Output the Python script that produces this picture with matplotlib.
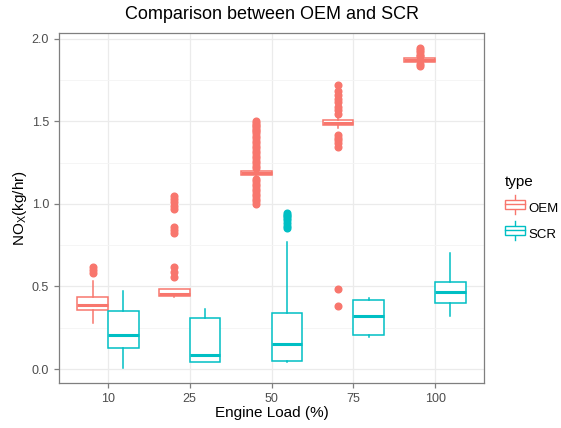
import numpy as np
import matplotlib
matplotlib.use("Agg")
import matplotlib.pyplot as plt
from matplotlib.legend_handler import HandlerBase
from matplotlib.lines import Line2D
from matplotlib.patches import Rectangle

plt.rcParams['font.family'] = ['Liberation Sans', 'DejaVu Sans']
plt.rcParams['mathtext.fontset'] = 'custom'
plt.rcParams['mathtext.rm'] = 'Liberation Sans'

loads = ['10', '25', '50', '75', '100']

# OEM box stats
oem_lo = [0.28, 0.435, 1.16, 1.46, 1.855]
oem_q1 = [0.357, 0.444, 1.175, 1.480, 1.862]
oem_med = [0.386, 0.453, 1.186, 1.493, 1.873]
oem_q3 = [0.435, 0.483, 1.198, 1.506, 1.882]
oem_hi = [0.535, 0.483, 1.22, 1.525, 1.89]
oem_fliers = [
    [0.616, 0.60, 0.58],
    [1.048, 1.03, 1.012, 0.99, 0.968, 0.862, 0.842, 0.822, 0.616, 0.59, 0.56],
    [1.50, 1.49, 1.48, 1.47, 1.46, 1.45, 1.44, 1.43, 1.41, 1.40, 1.38, 1.37,
     1.35, 1.34, 1.32, 1.31, 1.29, 1.28, 1.26, 1.25, 1.23, 1.22, 1.15, 1.14,
     1.12, 1.11, 1.09, 1.08, 1.06, 1.05, 1.03, 1.02, 1.00],
    [1.721, 1.685, 1.66, 1.636, 1.616, 1.59, 1.57, 1.544, 1.418, 1.40, 1.388,
     1.368, 1.347, 0.483, 0.384],
    [1.944, 1.93, 1.92, 1.905, 1.895, 1.85, 1.835],
]

# SCR box stats
scr_lo = [0.006, 0.042, 0.045, 0.194, 0.321]
scr_q1 = [0.127, 0.042, 0.048, 0.206, 0.398]
scr_med = [0.208, 0.087, 0.152, 0.323, 0.465]
scr_q3 = [0.351, 0.307, 0.341, 0.416, 0.529]
scr_hi = [0.475, 0.365, 0.768, 0.428, 0.70]
scr_fliers = [
    [],
    [],
    [0.947, 0.935, 0.925, 0.912, 0.90, 0.885, 0.868, 0.853],
    [],
    [],
]

types = ['OEM', 'SCR']
colors = ['#F8766D', '#00BFC4']


def stats(lo, q1, med, q3, hi, fl):
    return [dict(whislo=a, q1=b, med=c, q3=d, whishi=e, fliers=f)
            for a, b, c, d, e, f in zip(lo, q1, med, q3, hi, fl)]


fig = plt.figure(figsize=(5.61, 4.28), dpi=100)
ax = fig.add_axes([0.105, 0.105, 0.758, 0.818])

x = np.arange(1, len(loads) + 1)
w = 0.375
groups = [stats(oem_lo, oem_q1, oem_med, oem_q3, oem_hi, oem_fliers),
          stats(scr_lo, scr_q1, scr_med, scr_q3, scr_hi, scr_fliers)]
for k, (st, c) in enumerate(zip(groups, colors)):
    off = -w / 2 if k == 0 else w / 2
    ax.bxp(st, positions=x + off, widths=w, showcaps=False, patch_artist=True,
           boxprops=dict(facecolor='white', edgecolor=c, linewidth=1.1),
           whiskerprops=dict(color=c, linewidth=1.1),
           medianprops=dict(color=c, linewidth=2.2, solid_capstyle='butt'),
           flierprops=dict(marker='o', markerfacecolor=c, markeredgecolor=c,
                           markersize=4.8, linestyle='none'),
           manage_ticks=False, zorder=3)

ax.set_xlim(0.4, 5.6)
ax.set_ylim(-0.085, 2.036)
ax.set_xticks(x)
ax.set_xticklabels(loads)
ax.set_yticks([0.0, 0.5, 1.0, 1.5, 2.0])
ax.set_yticks([0.25, 0.75, 1.25, 1.75], minor=True)
ax.grid(True, which='major', color='#EBEBEB', linewidth=0.9, zorder=0)
ax.grid(True, which='minor', axis='y', color='#F4F4F4', linewidth=0.6, zorder=0)
ax.set_axisbelow(True)
for s in ax.spines.values():
    s.set_color('#7F7F7F')
    s.set_linewidth(0.9)
ax.tick_params(which='major', colors='#7F7F7F', labelcolor='#4D4D4D',
               labelsize=9, length=3.5, width=0.9)
ax.tick_params(which='minor', length=0)

ax.set_title('Comparison between OEM and SCR', fontsize=13, pad=10)
ax.set_xlabel('Engine Load (%)', fontsize=11, labelpad=1)
ax.set_ylabel('NO$_\\mathrm{X}$(kg/hr)', fontsize=11, labelpad=2)


class BoxHandler(HandlerBase):
    def __init__(self, color):
        super().__init__()
        self.color = color

    def create_artists(self, legend, orig_handle, xd, yd, width, height, fontsize, trans):
        cx = xd + width / 2
        bw = width * 0.95
        r = Rectangle((cx - bw / 2, yd + height * 0.1), bw, height * 0.8,
                      facecolor='white', edgecolor=self.color, lw=1.0, transform=trans)
        m = Line2D([cx - bw / 2, cx + bw / 2], [yd + height * 0.5] * 2,
                   color=self.color, lw=1.0, transform=trans)
        t = Line2D([cx, cx], [yd + height * 0.9, yd + height * 1.3],
                   color=self.color, lw=1.0, transform=trans)
        b = Line2D([cx, cx], [yd - height * 0.3, yd + height * 0.1],
                   color=self.color, lw=1.0, transform=trans)
        return [t, b, r, m]


handles = [Rectangle((0, 0), 1, 1) for _ in types]
hmap = {h: BoxHandler(c) for h, c in zip(handles, colors)}
leg = fig.legend(handles, types, title='type', handler_map=hmap,
                 loc='center left', bbox_to_anchor=(0.878, 0.515), frameon=False,
                 fontsize=9.5, title_fontsize=11, handlelength=1.6,
                 handleheight=1.0, handletextpad=0.25, labelspacing=0.95)
leg._legend_box.align = 'left'

fig.savefig('out.png', dpi=100)
